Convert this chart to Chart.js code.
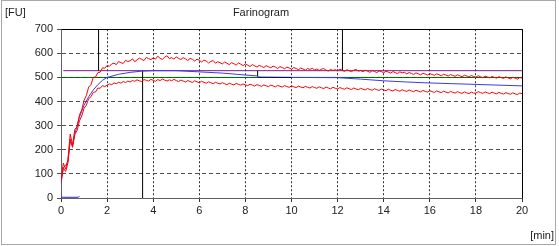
<!DOCTYPE html>
<html>
<head>
<meta charset="utf-8">
<script src="https://cdn.jsdelivr.net/npm/chart.js@4"></script>
<style>
  html, body { margin: 0; padding: 0; background: #fff; }
  #wrap { width: 559px; height: 246px; }
</style>
</head>
<body>
<div id="wrap"><canvas id="farino" width="559" height="246"></canvas></div>
<script>
/*---------------------------- data ------------------------------------*/

// red band, sampled every 0.1 min from 0 to 20
var upperBand = [
  70, 145, 120, 160, 265, 220, 285, 295, 345, 365,
  405, 425, 460, 470, 500, 502, 520, 522, 540, 538,
  550, 546, 556, 559, 553, 566, 561, 558, 571, 566,
  569, 577, 565, 573, 580, 575, 570, 583, 578, 574,
  581, 576, 588, 579, 575, 584, 590, 578, 582, 576,
  585, 579, 574, 582, 577, 570, 579, 575, 568, 576,
  571, 564, 572, 568, 560, 566, 570, 559, 565, 561,
  556, 564, 559, 553, 561, 557, 551, 560, 555, 549,
  556, 551, 545, 553, 548, 543, 550, 546, 541, 549,
  544, 540, 547, 543, 537, 545, 541, 536, 543, 539,
  534, 541, 537, 532, 539, 535, 530, 537, 533, 538,
  531, 535, 529, 534, 537, 530, 527, 533, 529, 532,
  528, 534, 530, 525, 532, 528, 524, 530, 533, 526,
  529, 524, 530, 526, 521, 528, 525, 520, 527, 524,
  519, 526, 522, 518, 524, 520, 516, 523, 519, 521,
  515, 520, 517, 512, 519, 515, 511, 517, 514, 510,
  516, 512, 509, 515, 511, 507, 513, 510, 506, 512,
  508, 505, 511, 507, 503, 509, 506, 502, 508, 504,
  501, 507, 503, 499, 505, 502, 498, 504, 500, 497,
  503, 499, 496, 502, 498, 494, 500, 497, 493, 499,
  498
];
var lowerBand = [
  65, 125, 110, 145, 245, 210, 265, 280, 320, 340,
  372, 385, 412, 420, 438, 440, 456, 455, 466, 462,
  468, 473, 470, 477, 474, 480, 476, 483, 479, 485,
  481, 487, 484, 490, 486, 483, 491, 488, 485, 492,
  488, 484, 491, 487, 493, 489, 485, 490, 486, 492,
  487, 483, 489, 485, 481, 487, 483, 479, 486, 482,
  478, 484, 480, 476, 482, 478, 474, 480, 476, 473,
  478, 474, 470, 476, 472, 469, 475, 471, 468, 473,
  469, 466, 472, 468, 464, 470, 467, 463, 469, 465,
  462, 468, 465, 461, 467, 463, 460, 466, 462, 459,
  465, 461, 458, 464, 460, 457, 463, 459, 456, 462,
  458, 455, 461, 457, 454, 460, 456, 453, 459, 455,
  452, 458, 454, 451, 457, 453, 450, 456, 452, 449,
  455, 451, 448, 454, 450, 447, 453, 449, 446, 452,
  448, 445, 451, 447, 444, 450, 446, 443, 449, 445,
  442, 448, 444, 441, 447, 443, 440, 446, 442, 439,
  445, 441, 438, 444, 440, 437, 443, 439, 436, 442,
  438, 435, 441, 437, 434, 440, 436, 433, 439, 435,
  435, 441, 437, 434, 440, 436, 433, 439, 435, 432,
  438, 434, 431, 437, 433, 430, 436, 432, 429, 435,
  433
];

// median curve (blue)
var medianTime = [0, 0.1, 0.2, 0.3, 0.4, 0.5, 0.6, 0.7, 0.8, 1.0, 1.2, 1.4, 1.6, 1.8, 2.0, 2.5, 3.0, 3.5, 4.0, 5.0, 6.0, 7.0, 8.0, 8.53, 8.55, 10, 12, 13, 14, 15, 16, 17, 18, 19, 20];
var medianFU   = [60, 125, 135, 150, 235, 215, 265, 300, 335, 385, 420, 448, 470, 488, 500, 513, 521, 526, 528, 528, 523, 518, 510, 506, 501, 500, 499, 493, 486, 481, 477, 474, 471, 468, 465];

// short trace near zero
var baseTime = [0, 0.75, 0.8];
var baseFU   = [3, 3, 8];

// reference levels
var consistencyLine = 500;
var upperLine = 528;

// evaluation markers [time, from, to]
var markerTime = [1.63, 3.54, 8.53, 12.21];
var markerFrom = [528, 0, 504, 528];
var markerTo   = [700, 528, 528, 700];

var xTicks = {min: 0, max: 20, step: 2};
var yTicks = {min: 0, max: 700, step: 100};

/*---------------------------- build ------------------------------------*/

function sampled(vals) {
  var pts = [];
  for (var i = 0; i < vals.length; i++) pts.push({x: i / 10, y: vals[i]});
  return pts;
}
function paired(xs, ys) {
  return xs.map(function (x, i) { return {x: x, y: ys[i]}; });
}

var datasets = [
  { data: sampled(upperBand), borderColor: "#ff0000", order: 1 },
  { data: sampled(lowerBand), borderColor: "#ff0000", order: 2 },
  { data: paired(medianTime, medianFU), borderColor: "#3a3aee", order: 3,
    segment: { borderColor: function (c) {
      return (c.p0.parsed.x >= 8.54 && c.p1.parsed.x <= 10.01) ? "#000080" : undefined;
    } } },
  { data: paired(baseTime, baseFU), borderColor: "#2a2acc", order: 4 },
  { data: [{x: 0.1, y: upperLine}, {x: 20, y: upperLine}], borderColor: "#7a1a8a", order: 6 },
  { data: [{x: 0, y: consistencyLine}, {x: 20, y: consistencyLine}], borderColor: "#006400", order: 7 }
];
markerTime.forEach(function (t, i) {
  datasets.push({ data: [{x: t, y: markerFrom[i]}, {x: t, y: markerTo[i]}], borderColor: "#000000", order: 5 });
});

var labelFont = {family: "'Liberation Sans', Arial, sans-serif", size: 11};

var frame = {
  id: "frame",
  beforeDatasetsDraw: function (chart) {
    var ctx = chart.ctx, a = chart.chartArea;
    ctx.save();
    ctx.strokeStyle = "#000";
    ctx.lineWidth = 1;
    ctx.beginPath();
    ctx.moveTo(Math.round(a.left) + 0.5, Math.round(a.top) + 0.5);
    ctx.lineTo(Math.round(a.right) + 0.5, Math.round(a.top) + 0.5);
    ctx.lineTo(Math.round(a.right) + 0.5, Math.round(a.bottom) + 0.5);
    ctx.stroke();
    ctx.restore();
  },
  afterDraw: function (chart) {
    var ctx = chart.ctx;
    ctx.save();
    ctx.strokeStyle = "#a8a8a8";
    ctx.lineWidth = 1;
    ctx.strokeRect(1.5, 0.5, 554, 244);
    ctx.fillStyle = "#222";
    ctx.font = "11px 'Liberation Sans', Arial, sans-serif";
    ctx.textBaseline = "middle";
    ctx.textAlign = "left";
    ctx.fillText("[FU]", 5, 13);
    ctx.textAlign = "right";
    ctx.fillText("[min]", 554, 236);
    ctx.restore();
  }
};

new Chart("farino", {
  type: "line",
  data: { datasets: datasets },
  options: {
    responsive: false,
    animation: false,
    layout: { padding: { left: 0, right: 37, top: 0, bottom: 0 } },
    elements: {
      point: { radius: 0 },
      line: { borderWidth: 1, tension: 0, fill: false }
    },
    plugins: {
      legend: { display: false },
      tooltip: { enabled: false },
      title: {
        display: true,
        text: "Farinogram",
        color: "#222",
        font: { family: labelFont.family, size: 11, weight: "normal" },
        padding: { top: 6, bottom: 10 }
      }
    },
    scales: {
      x: {
        type: "linear",
        min: xTicks.min, max: xTicks.max,
        afterFit: function (s) { s.height = 48; },
        ticks: { stepSize: xTicks.step, color: "#222", font: labelFont, padding: 2, maxRotation: 0 },
        grid: { color: "#303030", tickLength: 4, tickColor: "#303030" },
        border: { display: true, color: "#606060", dash: [2, 2] }
      },
      y: {
        min: yTicks.min, max: yTicks.max,
        afterFit: function (s) { s.width = 61; },
        ticks: { stepSize: yTicks.step, color: "#222", font: labelFont, padding: 4 },
        grid: { color: "#505050", tickLength: 4, tickColor: "#505050" },
        border: { display: true, color: "#606060", dash: [4, 3] }
      }
    }
  },
  plugins: [frame]
});
</script>
</body>
</html>
